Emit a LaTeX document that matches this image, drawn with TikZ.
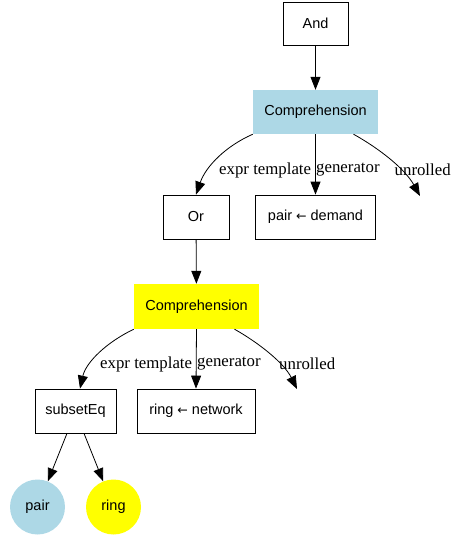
\documentclass[tikz,border=0pt]{standalone}
\usepackage{fontspec}
\setmainfont{Liberation Serif}
\newfontfamily\nodefont{Liberation Sans}
\newfontfamily\arrfont{DejaVu Sans}
\usetikzlibrary{arrows.meta}
\definecolor{lblue}{RGB}{173,216,230}
\definecolor{yel}{RGB}{255,255,0}
\newcommand{\larr}{{\arrfont\fontsize{12.5}{14}\selectfont ←}}
\tikzset{
  box/.style={draw=black, line width=0.8pt, inner sep=0pt, font=\nodefont\fontsize{14.5}{16}\selectfont},
  fbox/.style={inner sep=0pt, font=\nodefont\fontsize{14.5}{16}\selectfont},
  circ/.style={circle, inner sep=0pt, minimum size=55pt, font=\nodefont\fontsize{14.5}{16}\selectfont},
  edge/.style={draw=black, line width=0.8pt, -{Triangle[length=13pt,width=10pt]}},
  lab/.style={font=\fontsize{16.8}{18}\selectfont, inner sep=0pt, anchor=west}
}
\begin{document}
\begin{tikzpicture}[x=1pt,y=-1pt]
\useasboundingbox (0,0) rectangle (452,535);
\node[box, minimum width=65pt, minimum height=43pt] (and) at (315.5,23.5) {And};
\node[fbox, fill=lblue, minimum width=125pt, minimum height=44pt] (c1) at (315.5,112) {Comprehension};
\node[box, minimum width=66pt, minimum height=44pt] (or) at (196,217) {Or};
\node[box, minimum width=120pt, minimum height=44pt] (pd) at (315.5,217) {pair \larr\ demand};
\coordinate (u1) at (420,196);
\node[fbox, fill=yel, minimum width=125pt, minimum height=45pt] (c2) at (196.5,306.5) {Comprehension};
\node[box, minimum width=81pt, minimum height=44pt] (se) at (75.5,411) {subsetEq};
\node[box, minimum width=118pt, minimum height=44pt] (rn) at (196,411) {ring \larr\ network};
\coordinate (u2) at (297,389);
\node[circ, fill=lblue] (pair) at (37.5,507) {pair};
\node[circ, fill=yel] (ring) at (113.5,507) {ring};

\draw[edge] (and) -- (c1);
\draw[edge] (c1.south west) .. controls (226,146) and (206,166) .. (or.north);
\draw[edge] (c1.south) -- (pd.north);
\draw[edge] ([xshift=38pt]c1.south) .. controls (380,149) and (405,169) .. (u1);
\node[lab] (l1a) at (219,170) {expr template};
\node[lab] (l1b) at (316,170) {generator};
\node[lab] (l1c) at (394.5,170) {unrolled};

\draw[edge] (or) -- (c2);
\draw[edge] (c2.south west) .. controls (107,342) and (86,362) .. ([xshift=4.5pt]se.north);
\draw[edge] (c2.south) -- (rn.north);
\draw[edge] ([xshift=38pt]c2.south) .. controls (259,343) and (284,363) .. (u2);
\node[lab] (l2a) at (100,364) {expr template};
\node[lab] (l2b) at (197,364) {generator};
\node[lab] (l2c) at (279,364) {unrolled};

\draw[edge] ([xshift=-8.5pt]se.south) -- (pair);
\draw[edge] ([xshift=8.5pt]se.south) -- (ring);
\end{tikzpicture}
\end{document}
